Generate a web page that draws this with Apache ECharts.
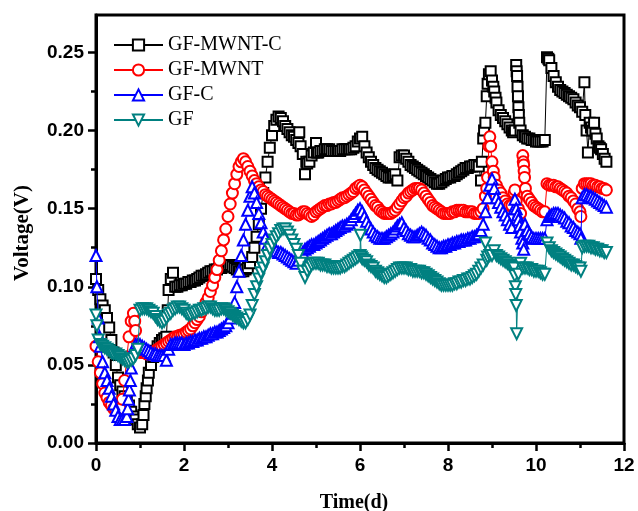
<!DOCTYPE html>
<html>
<head>
<meta charset="utf-8">
<script src="https://cdn.jsdelivr.net/npm/echarts@6/dist/echarts.min.js"></script>
<style>
  html, body { margin: 0; padding: 0; background: #fff; }
  #chart { width: 638px; height: 511px; }
</style>
</head>
<body>
<div id="chart"></div>
<script>
// Cell voltage over time for the four anode materials, [time (d), voltage (V)]
const seriesNames = ['GF-MWNT-C', 'GF-MWNT', 'GF-C', 'GF'];

const gfMwntC = [
  [0,0.105],[0.05,0.098],[0.1,0.092],[0.15,0.088],[0.2,0.085],[0.25,0.08],[0.3,0.074],[0.35,0.066],
  [0.4,0.058],[0.45,0.05],[0.5,0.042],[0.55,0.037],[0.6,0.033],[0.65,0.03],[0.7,0.028],[0.75,0.024],
  [0.8,0.02],[0.85,0.017],[0.9,0.015],[0.95,0.012],[1.0,0.01],[1.05,0.012],[1.08,0.018],[1.1,0.025],
  [1.13,0.03],[1.15,0.035],[1.18,0.04],[1.2,0.045],[1.25,0.05],[1.3,0.055],[1.35,0.059],[1.4,0.062],
  [1.45,0.064],[1.5,0.066],[1.55,0.067],[1.6,0.068],[1.63,0.085],[1.65,0.098],[1.7,0.105],[1.75,0.109],
  [1.8,0.1],[1.85,0.1],[1.9,0.101],[1.95,0.101],[2.0,0.102],[2.05,0.102],[2.1,0.103],[2.15,0.103],
  [2.2,0.104],[2.25,0.104],[2.3,0.105],[2.35,0.106],[2.4,0.107],[2.45,0.107],[2.5,0.108],[2.55,0.109],
  [2.6,0.11],[2.65,0.11],[2.7,0.111],[2.75,0.111],[2.8,0.112],[2.85,0.112],[2.9,0.113],[2.95,0.113],
  [3.0,0.114],[3.05,0.114],[3.1,0.113],[3.15,0.112],[3.2,0.111],[3.25,0.11],[3.3,0.11],[3.35,0.11],
  [3.4,0.111],[3.45,0.112],[3.5,0.115],[3.55,0.119],[3.6,0.125],[3.65,0.132],[3.7,0.14],[3.75,0.15],
  [3.8,0.16],[3.85,0.17],[3.9,0.18],[3.95,0.189],[4.0,0.197],[4.05,0.203],[4.1,0.207],[4.15,0.209],
  [4.2,0.208],[4.25,0.206],[4.3,0.203],[4.35,0.201],[4.4,0.199],[4.45,0.197],[4.5,0.196],[4.55,0.194],
  [4.6,0.192],[4.62,0.199],[4.65,0.19],[4.7,0.185],[4.75,0.172],[4.78,0.18],[4.8,0.179],[4.85,0.18],
  [4.9,0.184],[4.95,0.186],[5.0,0.192],[5.02,0.186],[5.05,0.186],[5.1,0.187],[5.15,0.187],[5.2,0.188],
  [5.25,0.188],[5.3,0.188],[5.35,0.187],[5.4,0.187],[5.45,0.187],[5.5,0.187],[5.55,0.187],[5.6,0.188],
  [5.65,0.188],[5.7,0.188],[5.75,0.188],[5.8,0.188],[5.85,0.189],[5.9,0.19],[5.95,0.193],[6.0,0.195],
  [6.05,0.196],[6.1,0.19],[6.15,0.186],[6.2,0.183],[6.25,0.18],[6.3,0.178],[6.35,0.176],[6.4,0.175],
  [6.45,0.174],[6.5,0.173],[6.55,0.172],[6.6,0.171],[6.65,0.17],[6.7,0.17],[6.75,0.171],[6.8,0.172],
  [6.85,0.168],[6.9,0.183],[6.95,0.184],[7.0,0.184],[7.05,0.182],[7.1,0.18],[7.15,0.178],[7.2,0.177],
  [7.25,0.176],[7.3,0.175],[7.35,0.174],[7.4,0.173],[7.45,0.172],[7.5,0.171],[7.55,0.17],[7.6,0.169],
  [7.65,0.168],[7.7,0.167],[7.75,0.166],[7.8,0.166],[7.85,0.167],[7.9,0.168],[7.95,0.169],[8.0,0.17],
  [8.05,0.17],[8.1,0.171],[8.15,0.171],[8.2,0.172],[8.25,0.173],[8.3,0.174],[8.35,0.175],[8.4,0.176],
  [8.45,0.176],[8.5,0.177],[8.55,0.177],[8.6,0.178],[8.65,0.178],[8.7,0.177],[8.75,0.168],[8.77,0.18],
  [8.8,0.195],[8.82,0.2],[8.85,0.205],[8.88,0.222],[8.9,0.23],[8.93,0.236],[8.97,0.238],[9.0,0.232],
  [9.03,0.228],[9.05,0.225],[9.08,0.221],[9.1,0.218],[9.15,0.213],[9.2,0.21],[9.25,0.208],[9.3,0.206],
  [9.35,0.204],[9.4,0.202],[9.45,0.2],[9.48,0.199],[9.52,0.2],[9.55,0.242],[9.56,0.238],[9.57,0.235],
  [9.58,0.228],[9.59,0.222],[9.6,0.215],[9.61,0.21],[9.62,0.205],[9.65,0.2],[9.7,0.197],[9.75,0.196],
  [9.8,0.195],[9.85,0.195],[9.9,0.194],[9.95,0.194],[10.0,0.193],[10.05,0.193],[10.1,0.193],[10.15,0.193],
  [10.2,0.194],[10.25,0.247],[10.28,0.246],[10.3,0.245],[10.35,0.24],[10.4,0.235],[10.45,0.231],
  [10.5,0.228],[10.55,0.226],[10.6,0.225],[10.65,0.224],[10.7,0.223],[10.75,0.222],[10.8,0.221],
  [10.85,0.22],[10.9,0.218],[10.95,0.216],[11.0,0.215],[11.05,0.212],[11.1,0.231],[11.12,0.21],
  [11.15,0.2],[11.18,0.186],[11.22,0.205],[11.25,0.202],[11.28,0.2],[11.32,0.205],[11.35,0.198],
  [11.38,0.195],[11.42,0.19],[11.45,0.189],[11.48,0.188],[11.52,0.185],[11.56,0.182],[11.6,0.18]
];

const gfMwnt = [
  [0,0.062],[0.05,0.052],[0.1,0.045],[0.15,0.038],[0.2,0.032],[0.25,0.029],[0.3,0.026],[0.35,0.024],
  [0.4,0.022],[0.45,0.021],[0.5,0.021],[0.55,0.022],[0.6,0.028],[0.65,0.04],[0.7,0.055],[0.75,0.068],
  [0.8,0.078],[0.85,0.083],[0.88,0.078],[0.9,0.072],[0.95,0.062],[1.0,0.058],[1.05,0.058],[1.1,0.058],
  [1.15,0.057],[1.2,0.057],[1.25,0.057],[1.3,0.058],[1.35,0.059],[1.4,0.06],[1.45,0.061],[1.5,0.062],
  [1.55,0.063],[1.6,0.064],[1.65,0.065],[1.7,0.066],[1.75,0.067],[1.8,0.068],[1.85,0.068],[1.9,0.069],
  [1.95,0.069],[2.0,0.07],[2.05,0.071],[2.1,0.072],[2.15,0.073],[2.2,0.075],[2.25,0.077],[2.3,0.079],
  [2.35,0.081],[2.4,0.084],[2.45,0.087],[2.5,0.09],[2.55,0.093],[2.6,0.097],[2.65,0.101],[2.7,0.106],
  [2.75,0.111],[2.8,0.117],[2.85,0.123],[2.9,0.13],[2.95,0.137],[3.0,0.145],[3.05,0.153],[3.1,0.16],
  [3.15,0.166],[3.2,0.172],[3.25,0.177],[3.3,0.18],[3.35,0.182],[3.4,0.18],[3.45,0.177],[3.5,0.174],
  [3.55,0.171],[3.6,0.168],[3.65,0.166],[3.7,0.164],[3.75,0.162],[3.8,0.161],[3.85,0.159],[3.9,0.158],
  [3.95,0.157],[4.0,0.156],[4.05,0.155],[4.1,0.154],[4.15,0.153],[4.2,0.152],[4.25,0.151],[4.3,0.15],
  [4.35,0.149],[4.4,0.148],[4.45,0.147],[4.5,0.147],[4.55,0.146],[4.6,0.146],[4.65,0.147],[4.7,0.148],
  [4.75,0.148],[4.8,0.147],[4.85,0.146],[4.9,0.145],[4.95,0.146],[5.0,0.148],[5.05,0.149],[5.1,0.15],
  [5.15,0.151],[5.2,0.152],[5.25,0.152],[5.3,0.153],[5.35,0.153],[5.4,0.154],[5.45,0.154],[5.5,0.155],
  [5.55,0.156],[5.6,0.157],[5.65,0.157],[5.7,0.158],[5.75,0.159],[5.8,0.16],[5.85,0.161],[5.9,0.163],
  [5.95,0.164],[6.0,0.165],[6.05,0.164],[6.1,0.162],[6.15,0.16],[6.2,0.158],[6.25,0.156],[6.3,0.154],
  [6.35,0.152],[6.4,0.151],[6.45,0.149],[6.5,0.148],[6.55,0.147],[6.6,0.147],[6.65,0.147],[6.7,0.147],
  [6.75,0.148],[6.8,0.149],[6.85,0.151],[6.9,0.153],[6.95,0.155],[7.0,0.157],[7.05,0.158],[7.1,0.16],
  [7.15,0.161],[7.2,0.162],[7.25,0.163],[7.3,0.163],[7.35,0.163],[7.4,0.162],[7.45,0.16],[7.5,0.158],
  [7.55,0.156],[7.6,0.154],[7.65,0.152],[7.7,0.151],[7.75,0.15],[7.8,0.149],[7.85,0.148],[7.9,0.147],
  [7.95,0.147],[8.0,0.147],[8.05,0.147],[8.1,0.148],[8.15,0.148],[8.2,0.149],[8.25,0.149],[8.3,0.149],
  [8.35,0.149],[8.4,0.148],[8.45,0.148],[8.5,0.148],[8.55,0.148],[8.6,0.147],[8.65,0.147],[8.7,0.147],
  [8.75,0.148],[8.8,0.15],[8.85,0.158],[8.88,0.163],[8.9,0.17],[8.93,0.19],[8.95,0.196],[8.97,0.19],
  [9.0,0.18],[9.03,0.174],[9.05,0.17],[9.1,0.165],[9.15,0.162],[9.2,0.16],[9.25,0.157],[9.3,0.155],
  [9.35,0.153],[9.4,0.152],[9.45,0.152],[9.5,0.16],[9.52,0.162],[9.55,0.155],[9.6,0.15],[9.65,0.147],
  [9.7,0.184],[9.71,0.18],[9.72,0.178],[9.73,0.174],[9.74,0.17],[9.76,0.163],[9.8,0.158],[9.85,0.156],
  [9.9,0.154],[9.95,0.152],[10.0,0.151],[10.05,0.15],[10.1,0.149],[10.15,0.148],[10.2,0.148],
  [10.25,0.166],[10.3,0.165],[10.35,0.165],[10.4,0.165],[10.45,0.164],[10.5,0.164],[10.55,0.163],
  [10.6,0.162],[10.65,0.161],[10.7,0.16],[10.75,0.158],[10.8,0.157],[10.85,0.155],[10.9,0.153],
  [10.95,0.15],[11.0,0.148],[11.02,0.145],[11.05,0.163],[11.1,0.166],[11.15,0.166],[11.2,0.166],
  [11.25,0.166],[11.3,0.165],[11.35,0.165],[11.4,0.164],[11.45,0.164],[11.5,0.163],[11.55,0.163],
  [11.6,0.162]
];

const gfC = [
  [0,0.12],[0.02,0.1],[0.05,0.08],[0.08,0.068],[0.1,0.062],[0.15,0.052],[0.2,0.045],[0.25,0.04],
  [0.3,0.035],[0.35,0.03],[0.4,0.025],[0.45,0.021],[0.5,0.017],[0.55,0.015],[0.6,0.015],[0.65,0.015],
  [0.7,0.017],[0.72,0.022],[0.74,0.028],[0.76,0.034],[0.78,0.04],[0.8,0.048],[0.85,0.06],[0.9,0.063],
  [0.95,0.063],[1.0,0.063],[1.05,0.062],[1.1,0.061],[1.15,0.06],[1.2,0.059],[1.25,0.058],[1.3,0.057],
  [1.35,0.057],[1.4,0.056],[1.45,0.056],[1.5,0.056],[1.55,0.056],[1.6,0.053],[1.65,0.06],[1.7,0.063],
  [1.75,0.063],[1.8,0.064],[1.85,0.064],[1.9,0.064],[1.95,0.064],[2.0,0.063],[2.05,0.064],[2.1,0.064],
  [2.15,0.065],[2.2,0.065],[2.25,0.066],[2.3,0.066],[2.35,0.067],[2.4,0.067],[2.45,0.068],[2.5,0.068],
  [2.55,0.069],[2.6,0.07],[2.65,0.07],[2.7,0.071],[2.75,0.071],[2.8,0.072],[2.85,0.073],[2.9,0.074],
  [2.95,0.075],[3.0,0.077],[3.05,0.08],[3.1,0.083],[3.15,0.09],[3.2,0.1],[3.25,0.11],[3.3,0.12],
  [3.35,0.13],[3.4,0.14],[3.45,0.149],[3.5,0.158],[3.55,0.164],[3.6,0.16],[3.65,0.154],[3.7,0.147],
  [3.75,0.141],[3.8,0.135],[3.85,0.131],[3.9,0.127],[3.95,0.125],[4.0,0.124],[4.05,0.123],[4.1,0.123],
  [4.15,0.122],[4.2,0.122],[4.25,0.121],[4.3,0.12],[4.35,0.119],[4.4,0.118],[4.45,0.117],[4.5,0.116],
  [4.55,0.115],[4.6,0.117],[4.65,0.12],[4.7,0.122],[4.75,0.124],[4.8,0.125],[4.85,0.126],[4.9,0.127],
  [4.95,0.127],[5.0,0.128],[5.05,0.129],[5.1,0.13],[5.15,0.131],[5.2,0.132],[5.25,0.133],[5.3,0.134],
  [5.35,0.134],[5.4,0.135],[5.45,0.136],[5.5,0.137],[5.55,0.138],[5.6,0.139],[5.65,0.139],[5.7,0.14],
  [5.75,0.141],[5.8,0.143],[5.85,0.145],[5.9,0.147],[5.95,0.149],[6.0,0.15],[6.05,0.148],[6.1,0.145],
  [6.15,0.142],[6.2,0.139],[6.25,0.137],[6.3,0.135],[6.35,0.133],[6.4,0.132],[6.45,0.131],[6.5,0.131],
  [6.55,0.131],[6.6,0.132],[6.65,0.133],[6.7,0.134],[6.75,0.135],[6.8,0.137],[6.85,0.139],[6.9,0.14],
  [6.95,0.141],[7.0,0.138],[7.05,0.136],[7.1,0.134],[7.15,0.133],[7.2,0.132],[7.25,0.132],[7.3,0.133],
  [7.35,0.134],[7.4,0.135],[7.45,0.134],[7.5,0.133],[7.55,0.131],[7.6,0.13],[7.65,0.128],[7.7,0.127],
  [7.75,0.126],[7.8,0.125],[7.85,0.125],[7.9,0.126],[7.95,0.126],[8.0,0.127],[8.05,0.127],[8.1,0.128],
  [8.15,0.128],[8.2,0.129],[8.25,0.129],[8.3,0.13],[8.35,0.13],[8.4,0.13],[8.45,0.131],[8.5,0.131],
  [8.55,0.132],[8.6,0.132],[8.65,0.133],[8.7,0.134],[8.75,0.136],[8.8,0.14],[8.85,0.148],[8.9,0.157],
  [8.95,0.165],[9.0,0.169],[9.05,0.163],[9.1,0.157],[9.15,0.154],[9.2,0.151],[9.25,0.148],[9.3,0.146],
  [9.35,0.143],[9.4,0.14],[9.45,0.138],[9.5,0.15],[9.52,0.156],[9.55,0.15],[9.58,0.146],[9.6,0.143],
  [9.63,0.139],[9.65,0.135],[9.68,0.131],[9.7,0.128],[9.72,0.124],[9.75,0.14],[9.8,0.136],[9.85,0.134],
  [9.9,0.132],[9.95,0.131],[10.0,0.131],[10.05,0.131],[10.1,0.131],[10.15,0.131],[10.2,0.131],
  [10.25,0.143],[10.3,0.145],[10.35,0.146],[10.4,0.147],[10.45,0.147],[10.5,0.147],[10.55,0.146],
  [10.6,0.145],[10.65,0.144],[10.7,0.142],[10.75,0.141],[10.8,0.139],[10.85,0.138],[10.9,0.136],
  [10.95,0.135],[11.0,0.134],[11.02,0.131],[11.05,0.157],[11.1,0.159],[11.15,0.159],[11.2,0.158],
  [11.25,0.158],[11.3,0.157],[11.35,0.156],[11.4,0.155],[11.45,0.154],[11.5,0.153],[11.55,0.152],
  [11.6,0.151]
];

const gf = [
  [0,0.082],[0.02,0.075],[0.05,0.066],[0.1,0.063],[0.15,0.062],[0.2,0.061],[0.25,0.06],[0.3,0.059],
  [0.35,0.058],[0.4,0.057],[0.45,0.057],[0.5,0.056],[0.55,0.055],[0.6,0.054],[0.65,0.053],[0.7,0.052],
  [0.75,0.052],[0.8,0.053],[0.85,0.054],[0.9,0.056],[0.95,0.06],[1.0,0.085],[1.05,0.086],[1.1,0.086],
  [1.15,0.086],[1.2,0.085],[1.25,0.084],[1.3,0.083],[1.35,0.081],[1.4,0.079],[1.45,0.078],[1.5,0.077],
  [1.55,0.078],[1.6,0.08],[1.65,0.082],[1.7,0.083],[1.75,0.085],[1.8,0.086],[1.85,0.087],[1.9,0.087],
  [1.95,0.086],[2.0,0.085],[2.05,0.083],[2.1,0.082],[2.15,0.082],[2.2,0.083],[2.25,0.083],[2.3,0.084],
  [2.35,0.085],[2.4,0.085],[2.45,0.086],[2.5,0.086],[2.55,0.087],[2.6,0.087],[2.65,0.086],[2.7,0.085],
  [2.75,0.085],[2.8,0.085],[2.85,0.086],[2.9,0.086],[2.95,0.085],[3.0,0.084],[3.05,0.083],[3.1,0.082],
  [3.15,0.081],[3.2,0.08],[3.25,0.079],[3.3,0.078],[3.35,0.077],[3.4,0.077],[3.45,0.079],[3.5,0.082],
  [3.55,0.088],[3.6,0.095],[3.65,0.1],[3.7,0.105],[3.75,0.109],[3.8,0.112],[3.85,0.116],[3.9,0.12],
  [3.95,0.124],[4.0,0.127],[4.05,0.13],[4.1,0.132],[4.15,0.134],[4.2,0.136],[4.25,0.137],[4.3,0.137],
  [4.35,0.135],[4.4,0.133],[4.45,0.13],[4.5,0.127],[4.55,0.124],[4.6,0.12],[4.65,0.115],[4.7,0.11],
  [4.75,0.106],[4.8,0.11],[4.85,0.112],[4.9,0.114],[4.95,0.115],[5.0,0.115],[5.05,0.115],[5.1,0.114],
  [5.15,0.114],[5.2,0.114],[5.25,0.113],[5.3,0.113],[5.35,0.112],[5.4,0.112],[5.45,0.112],[5.5,0.112],
  [5.55,0.112],[5.6,0.113],[5.65,0.113],[5.7,0.114],[5.75,0.115],[5.8,0.116],[5.85,0.117],[5.9,0.118],
  [5.95,0.119],[6.0,0.12],[6.01,0.133],[6.03,0.119],[6.05,0.118],[6.1,0.117],[6.15,0.116],[6.2,0.114],
  [6.25,0.113],[6.3,0.112],[6.35,0.11],[6.4,0.109],[6.45,0.108],[6.5,0.107],[6.55,0.106],[6.6,0.106],
  [6.65,0.107],[6.7,0.108],[6.75,0.109],[6.8,0.11],[6.85,0.111],[6.9,0.112],[6.95,0.112],[7.0,0.112],
  [7.05,0.112],[7.1,0.111],[7.15,0.111],[7.2,0.11],[7.25,0.11],[7.3,0.11],[7.35,0.11],[7.4,0.109],
  [7.45,0.109],[7.5,0.108],[7.55,0.107],[7.6,0.106],[7.65,0.105],[7.7,0.104],[7.75,0.103],[7.8,0.102],
  [7.85,0.101],[7.9,0.101],[7.95,0.101],[8.0,0.101],[8.05,0.101],[8.1,0.101],[8.15,0.102],[8.2,0.102],
  [8.25,0.103],[8.3,0.103],[8.35,0.104],[8.4,0.104],[8.45,0.105],[8.5,0.105],[8.55,0.106],[8.6,0.107],
  [8.65,0.108],[8.7,0.11],[8.75,0.112],[8.8,0.114],[8.85,0.128],[8.88,0.117],[8.9,0.119],[8.95,0.12],
  [9.0,0.12],[9.05,0.123],[9.1,0.12],[9.15,0.119],[9.2,0.118],[9.25,0.117],[9.3,0.116],[9.35,0.115],
  [9.4,0.114],[9.45,0.113],[9.5,0.112],[9.52,0.107],[9.53,0.1],[9.54,0.095],[9.55,0.088],[9.56,0.07],
  [9.6,0.108],[9.65,0.115],[9.7,0.112],[9.75,0.112],[9.8,0.112],[9.85,0.111],[9.9,0.111],[9.95,0.11],
  [10.0,0.11],[10.05,0.11],[10.1,0.109],[10.15,0.108],[10.2,0.108],[10.25,0.128],[10.3,0.125],
  [10.35,0.123],[10.4,0.122],[10.45,0.121],[10.5,0.12],[10.55,0.119],[10.6,0.118],[10.65,0.117],
  [10.7,0.116],[10.75,0.115],[10.8,0.114],[10.85,0.114],[10.9,0.113],[10.95,0.112],[11.0,0.112],
  [11.02,0.11],[11.05,0.125],[11.1,0.126],[11.15,0.126],[11.2,0.126],[11.25,0.125],[11.3,0.125],
  [11.35,0.124],[11.4,0.124],[11.45,0.123],[11.5,0.123],[11.55,0.122],[11.6,0.122]
];

// Axis ticks
const xTicks = { min: 0, max: 12, step: 2 };
const yMajorTicks = [0, 0.05, 0.10, 0.15, 0.20, 0.25];
const yMinorTicks = [0.025, 0.075, 0.125, 0.175, 0.225];
const yMax = 0.274;

const seriesData = [gfMwntC, gfMwnt, gfC, gf];
const colors = ['#000000', '#ff0000', '#0000ff', '#008080'];
const symbols = ['emptyRect', 'emptyCircle', 'emptyTriangle', 'emptyTriangle'];
const symbolSizes = [10, 11, 11, 11];
const symbolRotations = [0, 0, 0, 180];

const chart = echarts.init(document.getElementById('chart'), null, { renderer: 'canvas' });

const tickFont = { fontFamily: 'Liberation Sans, Arial, sans-serif', fontWeight: 'bold', fontSize: 19, color: '#000' };

chart.setOption({
  animation: false,
  backgroundColor: '#fff',
  grid: {
    left: 96, right: 14, top: 15, bottom: 68,
    show: true, borderColor: '#000', borderWidth: 3, backgroundColor: 'transparent'
  },
  legend: {
    orient: 'vertical',
    left: 113, top: 35, padding: 0,
    itemWidth: 49, itemHeight: 14, itemGap: 5,
    data: seriesNames,
    textStyle: { fontFamily: 'Liberation Serif, Times New Roman, serif', fontSize: 20, color: '#000' }
  },
  xAxis: {
    type: 'value',
    min: xTicks.min, max: xTicks.max, interval: xTicks.step,
    axisLine: { show: true, lineStyle: { color: '#000', width: 3 } },
    axisTick: { show: true, inside: false, length: 8, lineStyle: { color: '#000', width: 2.5 } },
    minorTick: { show: true, splitNumber: 2, length: 5, lineStyle: { color: '#000', width: 2.5 } },
    axisLabel: Object.assign({ margin: 13 }, tickFont),
    splitLine: { show: false }
  },
  yAxis: [
    {
      type: 'value',
      min: 0, max: yMax,
      axisLine: { show: true, lineStyle: { color: '#000', width: 3 } },
      axisTick: { show: true, inside: false, length: 8, customValues: yMajorTicks, lineStyle: { color: '#000', width: 2.5 } },
      axisLabel: Object.assign({ margin: 12, customValues: yMajorTicks, formatter: v => v.toFixed(2) }, tickFont),
      splitLine: { show: false }
    },
    {
      type: 'value',
      position: 'left',
      min: 0, max: yMax,
      axisLine: { show: false },
      axisTick: { show: true, inside: false, length: 5, customValues: yMinorTicks, lineStyle: { color: '#000', width: 2.5 } },
      axisLabel: { show: false },
      splitLine: { show: false }
    }
  ],
  graphic: [
    {
      type: 'text',
      x: 354, y: 503,
      style: { text: 'Time(d)', x: 0, y: 0, align: 'center', verticalAlign: 'middle',
        font: 'bold 20px "Liberation Serif", "Times New Roman", serif', fill: '#000' }
    },
    {
      type: 'text',
      x: 23, y: 233, rotation: Math.PI / 2,
      style: { text: 'Voltage(V)', x: 0, y: 0, align: 'center', verticalAlign: 'middle',
        font: 'bold 21px "Liberation Serif", "Times New Roman", serif', fill: '#000' }
    }
  ],
  series: seriesNames.map((name, i) => ({
    name: name,
    type: 'line',
    xAxisIndex: 0, yAxisIndex: 0,
    data: seriesData[i],
    symbol: symbols[i],
    symbolSize: symbolSizes[i],
    symbolRotate: symbolRotations[i],
    showAllSymbol: true,
    color: colors[i],
    itemStyle: { color: colors[i], borderWidth: 1 },
    lineStyle: { color: colors[i], width: 1 },
    emphasis: { disabled: true },
    z: 2 + i
  }))
});
</script>
</body>
</html>
